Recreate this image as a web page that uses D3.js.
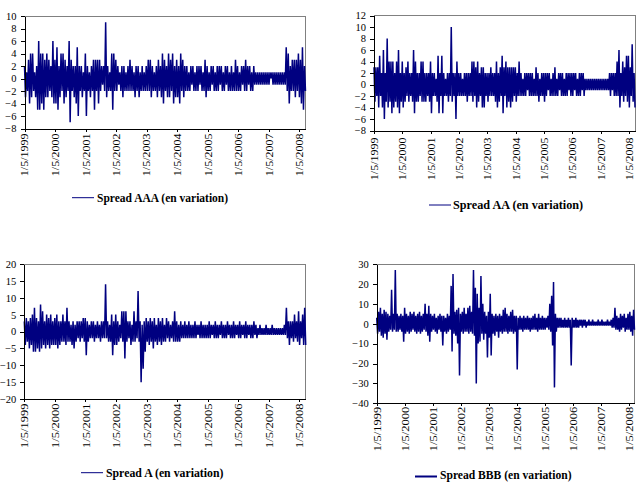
<!DOCTYPE html>
<html><head><meta charset="utf-8">
<script src="https://cdn.jsdelivr.net/npm/d3@7"></script>
<style>
body{margin:0;background:#fff}
svg{display:block}
text{font-family:"Liberation Serif","Times New Roman",serif;fill:#000}
</style>
</head><body>
<svg id="chart" width="641" height="482"></svg>
<script>
// ---------- DATA ----------
const xTickLabels = ["1/5/1999","1/5/2000","1/5/2001","1/5/2002","1/5/2003","1/5/2004","1/5/2005","1/5/2006","1/5/2007","1/5/2008"];
const firstDate = "1/5/1999";
const lastDate = "3/22/2008";

const spreadAAA = [
 2,-3,1,-2,3,-4,4,-3,4,-2, 1,-3,2,-5,6,-5,4,-4,4,-5, 3,-3,4,-3,3,-2,2,-3,6,-4,
 3,-4,5,-5,2,-3,4,-2,4,-4, 3,-3,2,-2,6,-7,3,-2,2,-3, 2,-4,5,-6,2,-2,2,-3,1,-2,
 4,-6,2,-2,1,-3,2,-2,3,-5, 3,-2,3,-4,3,-2,2,-1,2,-2, 9,-3,2,-2,1,-2,4,-5,4,-2,
 3,-2,2,-1,1,-2,2,-3,2,-2, 1,-2,2,-2,3,-2,2,-2,1,-3, 2,-2,2,-3,1,-2,2,-2,1,-2,
 2,-2,3,-2,3,-3,2,-2,1,-2, 2,-3,3,-2,2,-3,4,-4,3,-2, 2,-3,4,-3,3,-2,4,-4,2,-3,
 3,-3,2,-4,4,-2,3,-3,2,-2, 2,-2,1,-2,2,-1,2,-2,1,-2, 2,-2,2,-1,2,-2,1,-2,3,-3,
 2,-2,1,-2,2,-1,2,-2,1,-2, 2,-2,2,-1,2,-2,1,-2,2,-1, 2,-2,1,-2,2,-2,1,-2,3,-2,
 2,-2,1,-2,2,-1,2,-2,3,-2, 2,-1,2,-2,1,-2,2,-1,1,-1, 1,-1,1,-1,1,-1,1,-1,1,-1,
 1,-1,1,0,1,-1,1,-1,1,-1, 1,-1,1,-1,1,-1,1,-1,5,-2, 4,-4,2,-2,3,-2,3,-3,3,-2,
 4,-3,3,-4,5,-5,2,-2
];
const spreadAA = [
 3,-3,3,-2,3,-4,5,-2,2,-4, 6,-6,2,-3,8,-4,4,-3,4,-5, 4,-4,2,-3,4,-4,6,-5,2,-3,
 4,-4,2,-3,3,-2,4,-3,2,-2, 2,-3,6,-5,4,-3,2,-3,2,-2, 4,-3,4,-3,2,-3,2,-2,2,-3,
 4,-5,2,-2,2,-2,1,-3,5,-5, 2,-2,5,-5,2,-2,1,-2,2,-3, 2,-2,10,-3,2,-2,2,-6,4,-2,
 2,-2,2,-2,1,-2,2,-2,2,-3, 2,-2,2,-2,4,-3,4,-2,3,-4, 4,-3,2,-2,3,-4,3,-4,2,-2,
 2,-3,2,-2,3,-2,2,-2,2,-3, 4,-4,2,-3,3,-2,5,-5,3,-2, 4,-4,3,-3,3,-4,3,-3,3,-2,
 3,-3,2,-2,4,-2,2,-2,1,-2, 2,-2,2,-1,2,-2,2,-2,2,-2, 1,-2,3,-2,2,-3,1,-2,2,-2,
 2,-3,2,-2,2,-1,2,-2,1,-2, 2,-2,3,-2,1,-2,2,-1,2,-2, 2,-2,1,-2,2,-2,2,-1,2,-2,
 2,-2,2,-1,2,-2,1,-2,2,-2, 2,-1,2,-2,1,-1,1,-1,1,-1, 1,-1,1,-1,1,-1,1,-1,1,-1,
 1,-1,1,-1,1,-1,1,-1,1,-1, 2,-2,2,-1,2,-2,2,-2,4,-2, 6,-4,2,-2,4,-3,3,-2,5,-3,
 5,-4,3,-2,7,-3,2,-4
];
const spreadA = [
 3,-4,4,-3,3,-5,4,-4,5,-6, 7,-6,4,-5,3,-6,8,-5,6,-4, 3,-5,5,-4,4,-5,5,-4,3,-4,
 4,-4,5,-5,3,-4,3,-3,5,-3, 3,-4,7,-3,3,-3,2,-4,3,-5, 2,-3,3,-2,3,-3,3,-2,4,-3,
 4,-7,3,-3,2,-2,3,-2,3,-3, 2,-2,3,-2,2,-3,3,-2,3,-2, 14,-2,3,-3,2,-3,5,-7,3,-4,
 5,-4,3,-3,2,-2,6,-3,6,-8, 6,-3,3,-2,3,-4,2,-3,6,-3, 3,-2,12,-3,3,-15,2,-11,3,-6,
 4,-3,3,-4,4,-3,3,-5,4,-3, 2,-4,4,-3,3,-4,4,-3,2,-3, 4,-2,3,-3,2,-2,3,-3,6,-3,
 3,-3,2,-3,3,-2,2,-2,3,-2, 2,-2,3,-2,2,-2,2,-2,3,-2, 2,-1,2,-2,3,-2,2,-2,2,-2,
 2,-2,3,-2,2,-1,2,-2,3,-2, 2,-2,2,-1,3,-2,2,-2,2,-2, 3,-1,2,-2,2,-2,3,-2,2,-1,
 2,-2,3,-2,2,-1,2,-2,3,-2, 2,-1,2,-2,2,-2,3,-1,2,-2, 1,-1,2,-1,1,-1,1,-1,2,-1,
 1,-1,1,-1,2,-1,1,-1,1,-1, 1,-1,1,-1,1,-1,2,-1,7,-2, 3,-4,3,-2,3,-3,5,-2,3,-3,
 6,-4,3,-2,5,-4,7,-4
];
const spreadBBB = [
 3,-5,6,-4,8,-6,5,-7,7,-5, 6,-8,5,-4,4,-3,17,-4,5,-3, 27,-4,5,-4,4,-3,5,-4,4,-9,
 8,-5,5,-4,4,-5,6,-4,5,-3, 6,-4,4,-5,5,-4,6,-5,4,-4, 5,-3,10,-4,5,-6,9,-9,5,-4,
 4,-3,5,-4,3,-5,4,-3,5,-4, 4,-11,4,-4,3,-5,5,-4,4,-3, 19,-14,25,-5,6,-6,7,-10,8,-26,
 5,-4,6,-5,8,-4,5,-4,8,-5, 9,-4,6,-5,27,-6,18,-30,15,-10, 8,-9,24,-5,10,-8,6,-5,4,-17,
 6,-7,15,-16,5,-5,4,-6,5,-4, 4,-7,5,-4,4,-5,7,-4,8,-4, 5,-5,4,-4,6,-4,7,-5,4,-4,
 4,-23,3,-3,4,-3,3,-4,4,-3, 3,-3,4,-3,3,-4,3,-3,4,-3, 5,-3,3,-4,5,-3,3,-3,4,-3,
 3,-3,3,-2,4,-3,10,-4,14,-11, 21,-32,5,-4,3,-2,3,-2,3,-2, 2,-2,3,-2,2,-2,3,-2,2,-21,
 3,-2,2,-2,3,-2,2,-2,2,-1, 2,-2,2,-1,2,-2,1,-1,2,-1, 1,-1,2,-1,1,-1,1,-1,2,-1,
 1,-1,2,-1,1,-1,1,-1,2,-1, 1,-1,2,-2,3,-2,8,-3,4,-3, 3,-4,5,-3,4,-2,5,-4,3,-3,
 5,-3,6,-4,4,-6,7,-3
];

const ticksAAA = [-8,-6,-4,-2,0,2,4,6,8,10];
const ticksAA = [-8,-6,-4,-2,0,2,4,6,8,10,12];
const ticksA = [-20,-15,-10,-5,0,5,10,15,20];
const ticksBBB = [-40,-30,-20,-10,0,10,20,30];
const seriesNames = ["Spread AAA (en variation)","Spread AA (en variation)","Spread A (en variation)","Spread BBB (en variation)"];

// ---------- LAYOUT ----------
const layouts = [
 {left:24.5, right:305.5, top:16, bottom:128.5, lab:5, xfs:12, lx1:72, lx2:94, ly:197.7, tx:97, ty:201.7, lfs:11.5, lw:1},
 {left:374, right:635, top:15.5, bottom:130.5, lab:7, xfs:12, lx1:429, lx2:451, ly:205, tx:453, ty:209.3, lfs:12.2, lw:1},
 {left:24.3, right:305.7, top:264, bottom:399, lab:4.5, xfs:12.5, lx1:81, lx2:103, ly:472.7, tx:106, ty:476.7, lfs:11.8, lw:1},
 {left:376.7, right:634.5, top:264, bottom:403.3, lab:3.5, xfs:12.5, lx1:415, lx2:437, ly:476.5, tx:440, ty:479.3, lfs:11.6, lw:2}
];

const svg = d3.select("#chart");
const parse = d3.timeParse("%m/%d/%Y");
const t0 = parse(firstDate), t1 = parse(lastDate);
const tickDates = xTickLabels.map(parse);
const navy = "#000080";
const serif = "'Liberation Serif','Times New Roman',serif";

const panels = [
 {values:spreadAAA, ticks:ticksAAA, name:seriesNames[0]},
 {values:spreadAA, ticks:ticksAA, name:seriesNames[1]},
 {values:spreadA, ticks:ticksA, name:seriesNames[2]},
 {values:spreadBBB, ticks:ticksBBB, name:seriesNames[3]}
];

panels.forEach((p, k) => {
  const L = layouts[k];
  const g = svg.append("g");
  const x = d3.scaleTime().domain([t0, t1]).range([L.left, L.right]);
  const y = d3.scaleLinear().domain(d3.extent(p.ticks)).range([L.bottom, L.top]);
  const n = p.values.length;
  const dateAt = i => new Date(+t0 + (t1 - t0) * i / (n - 1));

  // plot frame (top & right, grey)
  g.append("path")
    .attr("d", `M${L.left},${L.top}H${L.right}V${L.bottom}`)
    .attr("fill","none").attr("stroke","#808080").attr("stroke-width",1)
    .attr("shape-rendering","crispEdges");

  // series
  const line = d3.line().x((d,i) => x(dateAt(i))).y(d => y(d));
  g.append("path").datum(p.values)
    .attr("d", line)
    .attr("fill","none").attr("stroke",navy).attr("stroke-width",1.5)
    .attr("stroke-linejoin","bevel");

  // y axis
  const ya = g.append("g").attr("transform",`translate(${L.left},0)`)
    .call(d3.axisLeft(y).tickValues(p.ticks).tickSize(4).tickPadding(4).tickSizeOuter(0));
  ya.attr("font-family", serif);
  ya.selectAll("path,line").attr("stroke","#000").attr("shape-rendering","crispEdges");
  ya.selectAll("text").style("font-size","10.5px").style("font-family",serif).attr("fill","#000");

  // x axis
  const xa = g.append("g").attr("transform",`translate(0,${L.bottom})`)
    .call(d3.axisBottom(x).tickValues(tickDates).tickSize(3).tickSizeOuter(0)
      .tickFormat((d,i) => xTickLabels[i]));
  xa.attr("font-family", serif);
  xa.selectAll("path,line").attr("stroke","#000").attr("shape-rendering","crispEdges");
  xa.selectAll("text")
    .attr("x",0).attr("y",0).attr("dy","0.35em")
    .attr("text-anchor","end")
    .attr("transform",`translate(0,${L.lab}) rotate(-90) scale(1,0.82)`)
    .style("font-size", L.xfs + "px")
    .style("font-family",serif)
    .attr("fill","#000");

  // legend
  g.append("line").attr("x1",L.lx1).attr("x2",L.lx2).attr("y1",L.ly).attr("y2",L.ly)
    .attr("stroke",navy).attr("stroke-width",L.lw);
  g.append("text").attr("x",L.tx).attr("y",L.ty)
    .style("font-size",L.lfs+"px").style("font-weight","bold").style("font-family",serif)
    .text(p.name);
});
</script>
</body></html>
